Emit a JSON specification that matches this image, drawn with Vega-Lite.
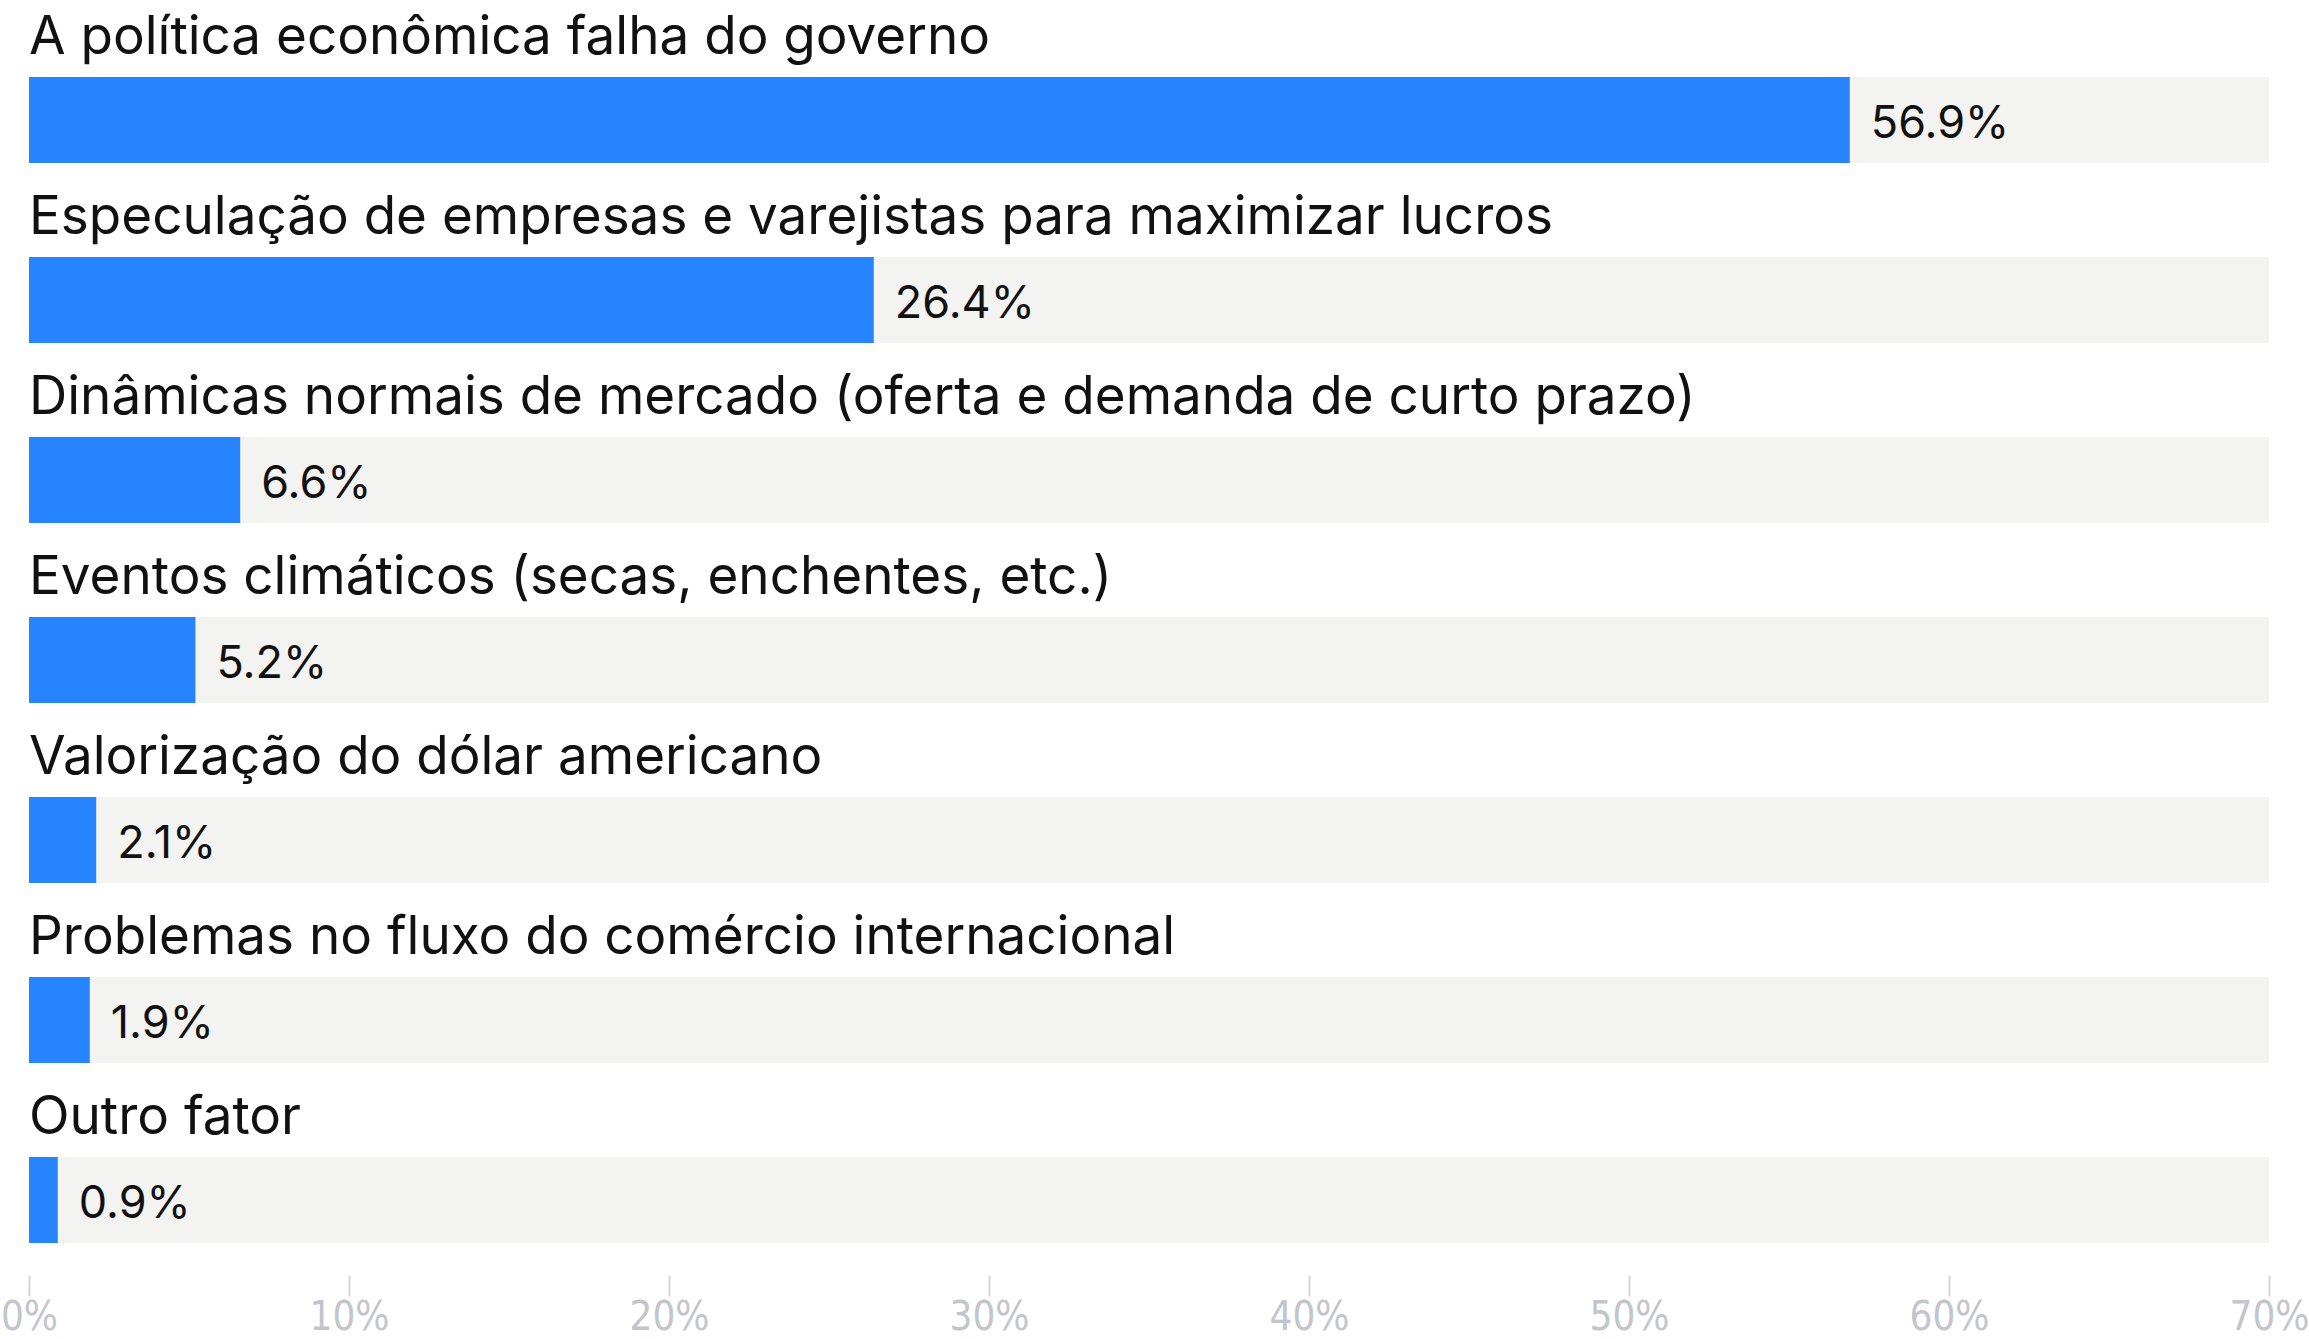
{
  "$schema": "https://vega.github.io/schema/vega-lite/v6.json",
  "width": 2240,
  "height": 1260,
  "autosize": {"type": "none"},
  "padding": {"left": 29, "top": 30, "right": 40, "bottom": 49},
  "background": "white",
  "config": {"view": {"stroke": null}},
  "data": {
    "values": [
      {"category": "A política econômica falha do governo", "value": 56.9, "max": 70},
      {"category": "Especulação de empresas e varejistas para maximizar lucros", "value": 26.4, "max": 70},
      {"category": "Dinâmicas normais de mercado (oferta e demanda de curto prazo)", "value": 6.6, "max": 70},
      {"category": "Eventos climáticos (secas, enchentes, etc.)", "value": 5.2, "max": 70},
      {"category": "Valorização do dólar americano", "value": 2.1, "max": 70},
      {"category": "Problemas no fluxo do comércio internacional", "value": 1.9, "max": 70},
      {"category": "Outro fator", "value": 0.9, "max": 70}
    ]
  },
  "encoding": {
    "y": {
      "field": "category",
      "type": "nominal",
      "sort": null,
      "axis": null,
      "scale": {"paddingInner": 0, "paddingOuter": 0}
    }
  },
  "layer": [
    {
      "mark": {"type": "bar", "color": "#f3f3f1", "height": 86},
      "encoding": {
        "x": {
          "field": "max",
          "type": "quantitative",
          "scale": {"domain": [0, 70], "nice": false, "zero": true},
          "axis": {
            "orient": "bottom",
            "values": [0, 10, 20, 30, 40, 50, 60, 70],
            "labelExpr": "datum.value + '%'",
            "labelFlush": false,
            "labelOverlap": false,
            "domain": false,
            "grid": false,
            "offset": -15,
            "tickSize": 21,
            "tickWidth": 2,
            "tickColor": "#d6d6d8",
            "labelPadding": 1,
            "labelFontSize": 40,
            "labelFont": "Liberation Sans Narrow, DejaVu Sans Condensed, Liberation Sans, sans-serif",
            "labelColor": "#c2c5cc",
            "labelBaseline": "top",
            "title": null
          }
        }
      }
    },
    {
      "mark": {"type": "bar", "color": "#2684ff", "height": 86},
      "encoding": {"x": {"field": "value", "type": "quantitative"}}
    },
    {
      "mark": {
        "type": "text",
        "align": "left",
        "baseline": "middle",
        "dx": 21,
        "dy": 4,
        "font": "Inter",
        "fontSize": 45,
        "color": "#111111"
      },
      "transform": [{"calculate": "format(datum.value, '.1f') + '%'", "as": "label"}],
      "encoding": {
        "x": {"field": "value", "type": "quantitative"},
        "text": {"field": "label", "type": "nominal"}
      }
    },
    {
      "mark": {
        "type": "text",
        "align": "left",
        "baseline": "alphabetic",
        "dy": -66,
        "font": "Inter",
        "fontSize": 53,
        "color": "#111111"
      },
      "encoding": {
        "x": {"datum": 0, "type": "quantitative"},
        "text": {"field": "category", "type": "nominal"}
      }
    }
  ]
}
